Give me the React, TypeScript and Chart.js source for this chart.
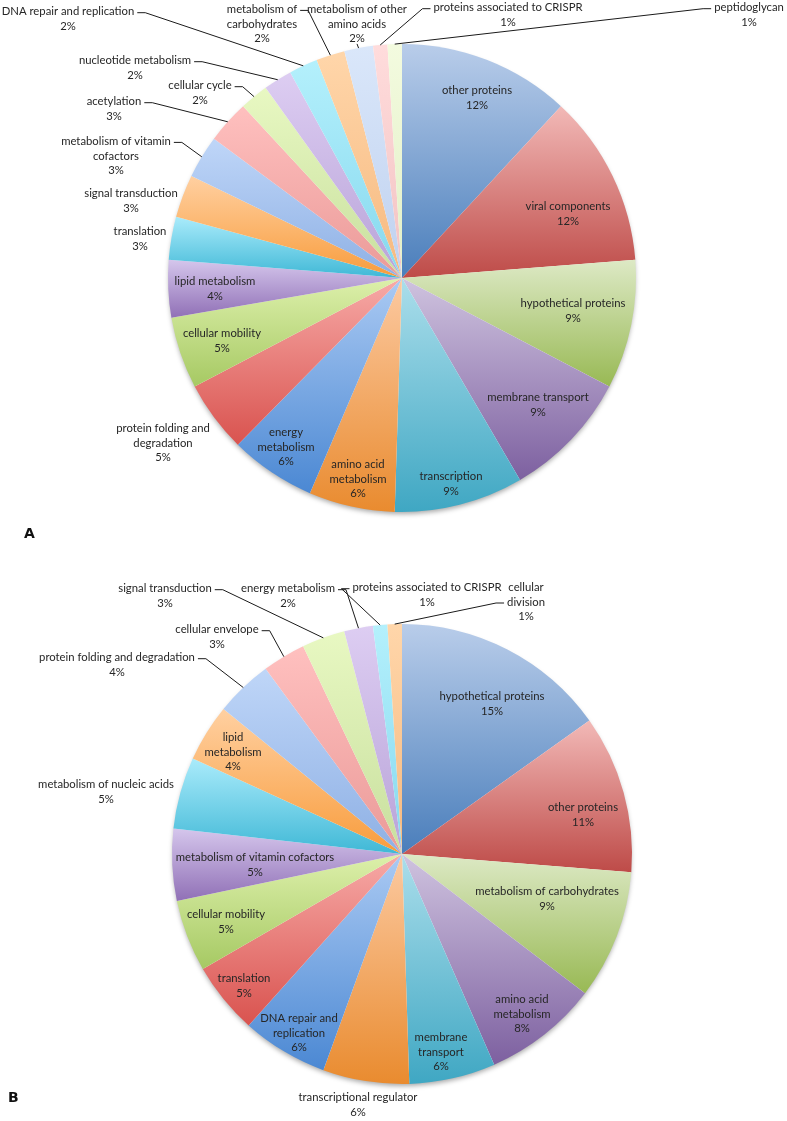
import React, { useEffect, useRef } from 'react';
import { Chart, registerables } from 'chart.js';

Chart.register(...registerables);

const FONT = 'Lato, "Open Sans", sans-serif';
const TEXT = '#262626';

// ---------- Panel A ----------
const categoriesA: string[][] = [
  ['other proteins'],
  ['viral components'],
  ['hypothetical proteins'],
  ['membrane transport'],
  ['transcription'],
  ['amino acid', 'metabolism'],
  ['energy', 'metabolism'],
  ['protein folding and', 'degradation'],
  ['cellular mobility'],
  ['lipid metabolism'],
  ['translation'],
  ['signal transduction'],
  ['metabolism of vitamin', 'cofactors'],
  ['acetylation'],
  ['cellular cycle'],
  ['nucleotide metabolism'],
  ['DNA repair and replication'],
  ['metabolism of', 'carbohydrates'],
  ['metabolism of other', 'amino acids'],
  ['proteins associated to CRISPR'],
  ['peptidoglycan'],
];
const valuesA: number[] = [12, 12, 9, 9, 9, 6, 6, 5, 5, 4, 3, 3, 3, 3, 2, 2, 2, 2, 2, 1, 1];

// ---------- Panel B ----------
const categoriesB: string[][] = [
  ['hypothetical proteins'],
  ['other proteins'],
  ['metabolism of carbohydrates'],
  ['amino acid', 'metabolism'],
  ['membrane', 'transport'],
  ['transcriptional regulator'],
  ['DNA repair and', 'replication'],
  ['translation'],
  ['cellular mobility'],
  ['metabolism of vitamin cofactors'],
  ['metabolism of nucleic acids'],
  ['lipid', 'metabolism'],
  ['protein folding and degradation'],
  ['cellular envelope'],
  ['signal transduction'],
  ['energy metabolism'],
  ['proteins associated to CRISPR'],
  ['cellular', 'division'],
];
const valuesB: number[] = [15, 11, 9, 8, 6, 6, 6, 5, 5, 5, 5, 4, 4, 3, 3, 2, 1, 1];

// ---------- palette (light top -> dark bottom) ----------
const lightColors = [
  '#b9cdea', '#f2b9b7', '#dde9c5', '#cfc3df', '#abdeeb', '#fccaa2',
  '#abcaf3', '#f7aaa7', '#ddf0ab', '#d5c6ec', '#aaebfb', '#ffd0a1',
  '#bfd6f8', '#ffc0bf', '#e8f8c2', '#ddcdf2', '#b4f0fc', '#ffd6aa',
  '#dae7fa', '#ffdcdc', '#f3fbdf',
];
const darkColors = [
  '#4a7ebb', '#be4b48', '#98b954', '#7d60a0', '#3fa7c3', '#e98b2f',
  '#4b88d3', '#d9534f', '#a6c963', '#9070b6', '#3fb8d6', '#f89c3c',
  '#8eb0e4', '#ea9a98', '#c8df9e', '#b8a3d8', '#86d8ee', '#f6b97f',
  '#bfd1ef', '#f2c2c2', '#e2efc6',
];

// ---------- label placement (px offsets from pie centre) ----------
type Leader = 'none' | 'left' | 'right' | 'bottom';
const labelOffsetsA: number[][] = [
  [75, -180], [166, -64], [171, 33], [136, 127], [49, 206], [-44, 201], [-116, 169],
  [-239, 165], [-180, 63], [-187, 11], [-262, -39], [-271, -77], [-286, -122],
  [-288, -169], [-202, -185], [-267, -210], [-334, -259], [-140, -254], [-45, -254],
  [106, -263], [347, -263],
];
const leadersA: Leader[] = [
  'none', 'none', 'none', 'none', 'none', 'none', 'none', 'none', 'none', 'none', 'none', 'none',
  'right', 'right', 'right', 'right', 'right', 'right', 'bottom', 'left', 'left',
];
const labelOffsetsB: number[][] = [
  [90, -150], [181, -39], [145, 45], [120, 160], [39, 198], [-44, 251], [-103, 179],
  [-158, 132], [-176, 68], [-147, 11], [-296, -62], [-169, -102], [-285, -189],
  [-185, -217], [-237, -258], [-114, -258], [25, -259], [124, -252],
];
const leadersB: Leader[] = [
  'none', 'none', 'none', 'none', 'none', 'none', 'none', 'none', 'none', 'none', 'none', 'none',
  'right', 'right', 'right', 'right', 'left', 'left',
];

function sliceFill(light: string[], dark: string[]) {
  return (c: any) => {
    const chart = c.chart;
    const ca = chart.chartArea;
    const i = c.dataIndex;
    if (!ca || i === undefined) return dark[i ?? 0];
    const data = c.dataset.data as number[];
    const total = data.reduce((a, b) => a + b, 0);
    let before = 0;
    for (let k = 0; k < i; k++) before += data[k];
    const cx = (ca.left + ca.right) / 2;
    const cy = (ca.top + ca.bottom) / 2;
    const R = Math.min(ca.width, ca.height) / 2;
    const a0 = -Math.PI / 2 + (before / total) * 2 * Math.PI;
    const a1 = a0 + (data[i] / total) * 2 * Math.PI;
    const ys = [cy, cy + R * Math.sin(a0), cy + R * Math.sin(a1)];
    const within = (t: number) =>
      [0, 2 * Math.PI, -2 * Math.PI].some((o) => t + o >= a0 - 1e-9 && t + o <= a1 + 1e-9);
    if (within(-Math.PI / 2)) ys.push(cy - R);
    if (within(Math.PI / 2)) ys.push(cy + R);
    const y0 = Math.min(...ys);
    const y1 = Math.max(...ys);
    const g = chart.ctx.createLinearGradient(0, y0, 0, Math.max(y1, y0 + 1));
    g.addColorStop(0, light[i]);
    g.addColorStop(1, dark[i]);
    return g;
  };
}

function makePlugins(offsets: number[][], leaders: Leader[]) {
  const shadow = {
    id: 'pieShadow',
    beforeDatasetsDraw(chart: any) {
      const arc = chart.getDatasetMeta(0).data[0];
      if (!arc) return;
      const { x, y, outerRadius } = arc.getProps(['x', 'y', 'outerRadius'], true);
      const ctx = chart.ctx;
      ctx.save();
      ctx.shadowColor = 'rgba(0,0,0,0.35)';
      ctx.shadowBlur = 5;
      ctx.shadowOffsetY = 3;
      ctx.beginPath();
      ctx.arc(x, y, outerRadius - 1, 0, Math.PI * 2);
      ctx.fillStyle = '#ffffff';
      ctx.fill();
      ctx.restore();
    },
  };
  const labels = {
    id: 'sliceLabels',
    afterDatasetsDraw(chart: any) {
      const meta = chart.getDatasetMeta(0);
      const ds = chart.data.datasets[0];
      const data = ds.data as number[];
      const total = data.reduce((a, b) => a + b, 0);
      const ctx = chart.ctx as CanvasRenderingContext2D;
      ctx.save();
      ctx.font = `100px ${FONT}`;
      const ref = ctx.measureText('hypothetical proteins').width;
      const fs = (100 * 105) / ref;
      ctx.font = `${fs.toFixed(2)}px ${FONT}`;
      const lh = 14.6;
      ctx.fillStyle = TEXT;
      ctx.strokeStyle = '#1a1a1a';
      ctx.lineWidth = 1;
      ctx.textAlign = 'center';
      ctx.textBaseline = 'middle';
      meta.data.forEach((arc: any, i: number) => {
        const { x, y, startAngle, endAngle, outerRadius } = arc.getProps(
          ['x', 'y', 'startAngle', 'endAngle', 'outerRadius'],
          true
        );
        const lines: string[] = [
          ...(chart.data.labels[i] as string[]),
          Math.round((data[i] / total) * 100) + '%',
        ];
        const n = lines.length;
        const bx = x + offsets[i][0];
        const by = y + offsets[i][1];
        let maxW = 0;
        let wi = 0;
        lines.forEach((t, k) => {
          const w = ctx.measureText(t).width;
          if (w > maxW + 0.5) {
            maxW = w;
            wi = k;
          }
        });
        lines.forEach((t, k) => {
          ctx.fillText(t, bx, by + (k - (n - 1) / 2) * lh);
        });
        const lead = leaders[i];
        if (lead !== 'none') {
          const mid = (startAngle + endAngle) / 2;
          const px = x + outerRadius * Math.cos(mid);
          const py = y + outerRadius * Math.sin(mid);
          const ly = by + (wi - (n - 1) / 2) * lh + 1;
          ctx.beginPath();
          if (lead === 'right') {
            const r = bx + maxW / 2;
            ctx.moveTo(r + 3, ly);
            ctx.lineTo(r + 11, ly);
          } else if (lead === 'left') {
            const l = bx - maxW / 2;
            ctx.moveTo(l - 3, ly);
            ctx.lineTo(l - 11, ly);
          } else {
            ctx.moveTo(bx, by + (n * lh) / 2 - 2);
          }
          ctx.lineTo(px, py);
          ctx.stroke();
        }
      });
      ctx.restore();
    },
  };
  return [shadow, labels];
}

type PieProps = {
  cats: string[][];
  values: number[];
  offsets: number[][];
  leaders: Leader[];
  padding: { left: number; right: number; top: number; bottom: number };
  height: number;
  top: number;
};

function PiePanel({ cats, values, offsets, leaders, padding, height, top }: PieProps) {
  const ref = useRef<HTMLCanvasElement>(null);
  useEffect(() => {
    const n = values.length;
    const chart = new Chart(ref.current as HTMLCanvasElement, {
      type: 'pie',
      data: {
        labels: cats as any,
        datasets: [
          {
            data: values,
            backgroundColor: sliceFill(lightColors.slice(0, n), darkColors.slice(0, n)) as any,
            borderWidth: 0,
          },
        ],
      },
      options: {
        animation: false,
        responsive: false,
        events: [],
        layout: { padding },
        plugins: {
          legend: { display: false },
          tooltip: { enabled: false },
        },
      },
      plugins: makePlugins(offsets, leaders) as any,
    });
    return () => chart.destroy();
  }, []);
  return (
    <canvas
      ref={ref}
      width={787}
      height={height}
      style={{ position: 'absolute', left: 0, top, width: 787, height, display: 'block' }}
    />
  );
}

const panelLetter: React.CSSProperties = {
  position: 'absolute',
  fontFamily: '"DejaVu Sans", sans-serif',
  fontWeight: 'bold',
  fontSize: 14,
  lineHeight: '16px',
  color: '#111',
};

export default function App() {
  return (
    <div
      style={{
        position: 'absolute',
        left: 0,
        top: 0,
        width: 787,
        height: 1121,
        background: '#ffffff',
        overflow: 'hidden',
      }}
    >
      <PiePanel
        cats={categoriesA}
        values={valuesA}
        offsets={labelOffsetsA}
        leaders={leadersA}
        padding={{ left: 168, right: 151, top: 44, bottom: 48 }}
        height={560}
        top={0}
      />
      <PiePanel
        cats={categoriesB}
        values={valuesB}
        offsets={labelOffsetsB}
        leaders={leadersB}
        padding={{ left: 172, right: 155, top: 64, bottom: 37 }}
        height={561}
        top={560}
      />
      <div style={{ ...panelLetter, left: 24, top: 525 }}>A</div>
      <div style={{ ...panelLetter, left: 8, top: 1089 }}>B</div>
    </div>
  );
}
